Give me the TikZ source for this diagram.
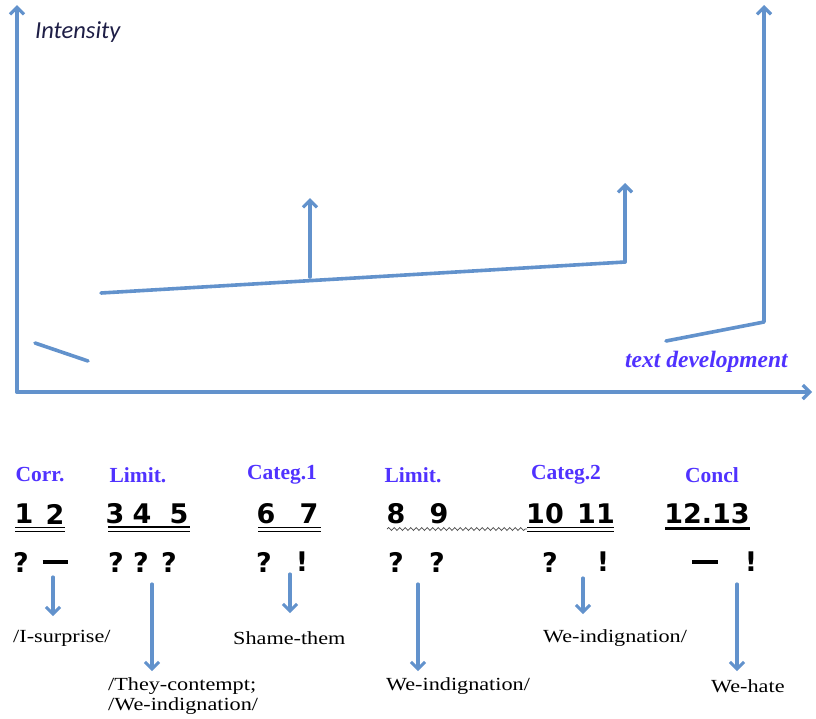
\documentclass[tikz,border=0pt]{standalone}
\usepackage{fontspec}
\setmainfont{Liberation Serif}
\newfontfamily\numfont{DejaVu Sans}
\newfontfamily\emofont[FakeStretch=1.2]{Liberation Serif}
\newfontfamily\intfont{Carlito}
\usetikzlibrary{arrows.meta,decorations.pathmorphing}
\definecolor{arrowblue}{RGB}{98,146,204}
\definecolor{labelblue}{RGB}{80,50,255}
\definecolor{darktext}{RGB}{30,30,70}
\tikzset{
  ax/.style={draw=arrowblue,line width=3.6pt,line cap=round,line join=round},
  axarrow/.style={ax,-{Straight Barb[length=7pt,width=14pt,line width=3.2pt]}},
  downarrow/.style={ax,line width=3.2pt,-{Straight Barb[length=7pt,width=14pt,line width=3pt]}},
  seclabel/.style={text=labelblue,font=\fontsize{21.5}{24}\selectfont\bfseries,inner sep=0pt},
  numlabel/.style={font=\numfont\fontsize{27}{29}\selectfont\bfseries,inner sep=0pt},
  symlabel/.style={font=\numfont\fontsize{27}{29}\selectfont\bfseries,inner sep=0pt},
  emolabel/.style={font=\emofont\fontsize{18.5}{21}\selectfont,inner sep=0pt,text=black},
  uline/.style={draw=black,line width=0.9pt},
  thickline/.style={draw=black,line width=2.4pt}
}
\begin{document}
\begin{tikzpicture}[x=1pt,y=-1pt]
\useasboundingbox (0,0) rectangle (816,718);
% axes
\coordinate (O) at (17,392);
\coordinate (Ytop) at (17,5);
\coordinate (Xend) at (812,392);
\draw[axarrow] (O) -- (Ytop);
\draw[axarrow] (O) -- (Xend);
\node[font=\intfont\fontsize{24.5}{26}\selectfont\itshape,text=darktext,anchor=west,inner sep=0pt] (intensity) at (35,32) {Intensity};
\node[font=\fontsize{23.5}{26}\selectfont\itshape\bfseries,text=labelblue,anchor=west,inner sep=0pt] (textdev) at (625,362) {text development};
% curve segments
\coordinate (s1a) at (35,343);
\coordinate (s1b) at (88,361);
\draw[ax] (s1a) -- (s1b);
\coordinate (l1) at (101,293);
\coordinate (mid) at (310,277);
\coordinate (l2) at (625,262);
\coordinate (l2top) at (625,183);
\coordinate (midtop) at (310,198);
\draw[ax] (l1) -- (l2);
\draw[axarrow] (l2) -- (l2top);
\draw[axarrow] (mid) -- (midtop);
\coordinate (r1) at (666,341);
\coordinate (r2) at (764,322);
\coordinate (rtop) at (764,5);
\draw[axarrow] (r1) -- (r2) -- (rtop);
% section labels
\node[seclabel] (corr) at (40,475) {Corr.};
\node[seclabel] (lim1) at (138,475) {Limit.};
\node[seclabel] (cat1) at (282,475) {Categ.1};
\node[seclabel] (lim2) at (413,475) {Limit.};
\node[seclabel] (cat2) at (566,475) {Categ.2};
\node[seclabel] (concl) at (712,475) {Concl};
% numbers
\node[numlabel] (n1) at (24,514) {1};
\node[numlabel] (n2) at (55,514) {2};
\node[numlabel] (n3) at (115,514) {3};
\node[numlabel] (n4) at (142,514) {4};
\node[numlabel] (n5) at (179,514) {5};
\node[numlabel] (n6) at (266,514) {6};
\node[numlabel] (n7) at (309,514) {7};
\node[numlabel] (n8) at (396,514) {8};
\node[numlabel] (n9) at (439,514) {9};
\node[numlabel] (n10) at (545,514) {10};
\node[numlabel] (n11) at (596,514) {11};
\node[numlabel] (n1213) at (707,514) {12.13};
% underlines
\coordinate (u1a) at (15,527.5); \coordinate (u1b) at (65,527.5);
\coordinate (u1c) at (15,531); \coordinate (u1d) at (65,531);
\draw[uline] (u1a) -- (u1b); \draw[uline] (u1c) -- (u1d);
\coordinate (u2a) at (108,526.5); \coordinate (u2b) at (190,526.5);
\coordinate (u2c) at (108,531); \coordinate (u2d) at (190,531);
\draw[thickline,line width=2pt] (u2a) -- (u2b); \draw[uline] (u2c) -- (u2d);
\coordinate (u3a) at (258,527.5); \coordinate (u3b) at (321,527.5);
\coordinate (u3c) at (258,531); \coordinate (u3d) at (321,531);
\draw[uline] (u3a) -- (u3b); \draw[uline] (u3c) -- (u3d);
\coordinate (u4a) at (387,529); \coordinate (u4b) at (527,529);
\draw[draw=black!70,line width=0.7pt,decorate,decoration={snake,amplitude=1.5pt,segment length=5.5pt}] (u4a) -- (u4b);
\coordinate (u5a) at (527,527.5); \coordinate (u5b) at (614,527.5);
\coordinate (u5c) at (527,531); \coordinate (u5d) at (614,531);
\draw[uline] (u5a) -- (u5b); \draw[uline] (u5c) -- (u5d);
\coordinate (u6a) at (665,528.5); \coordinate (u6b) at (750,528.5);
\draw[thickline] (u6a) -- (u6b);
% symbols
\node[symlabel] (q1) at (21,562) {?};
\node[symlabel] (d1) at (55,562) {\rule{25pt}{3.6pt}};
\node[symlabel] (q2) at (116,562) {?};
\node[symlabel] (q3) at (141,562) {?};
\node[symlabel] (q4) at (169,562) {?};
\node[symlabel] (q5) at (264,562) {?};
\node[symlabel] (e1) at (302,562) {!};
\node[symlabel] (q6) at (396,562) {?};
\node[symlabel] (q7) at (437,562) {?};
\node[symlabel] (q8) at (550,562) {?};
\node[symlabel] (e2) at (603,562) {!};
\node[symlabel] (d2) at (705,562) {\rule{26pt}{3.6pt}};
\node[symlabel] (e3) at (751,562) {!};
% down arrows
\coordinate (a1s) at (53,577); \coordinate (a1e) at (53,616);
\coordinate (a2s) at (152,584); \coordinate (a2e) at (152,671);
\coordinate (a3s) at (290,574); \coordinate (a3e) at (290,613);
\coordinate (a4s) at (418,584); \coordinate (a4e) at (418,671);
\coordinate (a5s) at (583,578); \coordinate (a5e) at (583,614);
\coordinate (a6s) at (737,584); \coordinate (a6e) at (737,671);
\draw[downarrow] (a1s) -- (a1e);
\draw[downarrow] (a2s) -- (a2e);
\draw[downarrow] (a3s) -- (a3e);
\draw[downarrow] (a4s) -- (a4e);
\draw[downarrow] (a5s) -- (a5e);
\draw[downarrow] (a6s) -- (a6e);
% emotion labels
\node[emolabel,anchor=west] (t1) at (13,638) {/I-surprise/};
\node[emolabel,anchor=west] (t2) at (233,638) {Shame-them};
\node[emolabel,anchor=west] (t3) at (543,638) {We-indignation/};
\node[emolabel,anchor=west] (t4) at (108,686) {/They-contempt;};
\node[emolabel,anchor=west] (t5) at (108,706) {/We-indignation/};
\node[emolabel,anchor=west] (t6) at (386,686) {We-indignation/};
\node[emolabel,anchor=west] (t7) at (711,686) {We-hate};
\end{tikzpicture}
\end{document}
